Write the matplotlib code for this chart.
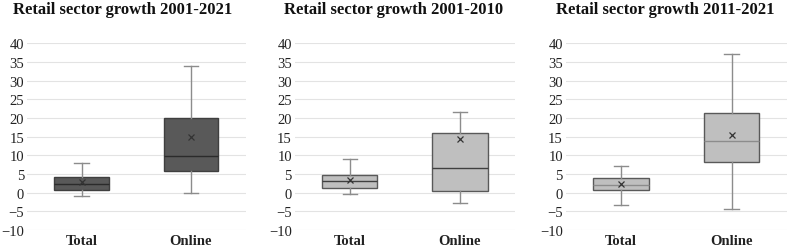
import matplotlib.pyplot as plt

plt.rcParams["font.family"] = ["Liberation Serif", "DejaVu Serif"]

titles = [
    "Retail sector growth 2001-2021",
    "Retail sector growth 2001-2010",
    "Retail sector growth 2011-2021",
]
categories = ["Total", "Online"]

# whisker low, Q1, median, Q3, whisker high, mean
total_stats = [
    [-0.8, 0.8, 2.2, 4.1, 8.0, 2.8],
    [-0.4, 1.1, 3.0, 4.6, 8.9, 3.4],
    [-3.4, 0.8, 2.0, 3.8, 7.1, 2.2],
]
online_stats = [
    [0.0, 5.9, 9.9, 19.9, 33.8, 14.8],
    [-2.7, 0.3, 6.5, 15.9, 21.6, 14.4],
    [-4.5, 8.1, 13.9, 21.3, 37.1, 15.5],
]

face_colors = ["#595959", "#bfbfbf", "#bfbfbf"]
edge_colors = ["#3f3f3f", "#595959", "#595959"]
median_colors = ["#2b2b2b", "#404040", "#8c8c8c"]

fig = plt.figure(figsize=(7.9, 2.51), dpi=100)
lefts = [0.034, 0.373, 0.716]
widths = [0.277, 0.279, 0.280]
title_x = [123, 394, 665]


def to_dict(s):
    return dict(whislo=s[0], q1=s[1], med=s[2], q3=s[3], whishi=s[4], mean=s[5], fliers=[])


for i in range(3):
    ax = fig.add_axes([lefts[i], 0.080, widths[i], 0.7435])
    stats = [to_dict(total_stats[i]), to_dict(online_stats[i])]
    ax.bxp(
        stats,
        positions=[1, 2],
        widths=0.5,
        capwidths=0.13,
        patch_artist=True,
        showmeans=True,
        boxprops=dict(facecolor=face_colors[i], edgecolor=edge_colors[i], lw=1),
        medianprops=dict(color=median_colors[i], lw=1),
        whiskerprops=dict(color="#8c8c8c", lw=1),
        capprops=dict(color="#8c8c8c", lw=1),
        meanprops=dict(marker="x", markeredgecolor="#333333", markersize=4, markeredgewidth=0.9),
        zorder=3,
    )
    ax.set_xlim(0.5, 2.5)
    ax.set_ylim(-10, 40)
    ax.set_yticks(range(-10, 41, 5))
    ax.set_xticks([1, 2])
    ax.set_xticklabels(categories, fontweight="bold", fontsize=11)
    ax.grid(axis="y", color="#e3e3e3", lw=0.8, zorder=0)
    ax.set_axisbelow(True)
    for sp in ax.spines.values():
        sp.set_visible(False)
    ax.tick_params(axis="both", length=0, labelsize=10.5, colors="#222222")
    ax.tick_params(axis="y", pad=2)
    ax.tick_params(axis="x", pad=3)
    fig.text(
        title_x[i] / 790,
        1 - 10 / 251,
        titles[i],
        ha="center",
        va="center",
        fontweight="bold",
        fontsize=12,
        color="#111111",
    )

plt.savefig("out.png", dpi=100)
